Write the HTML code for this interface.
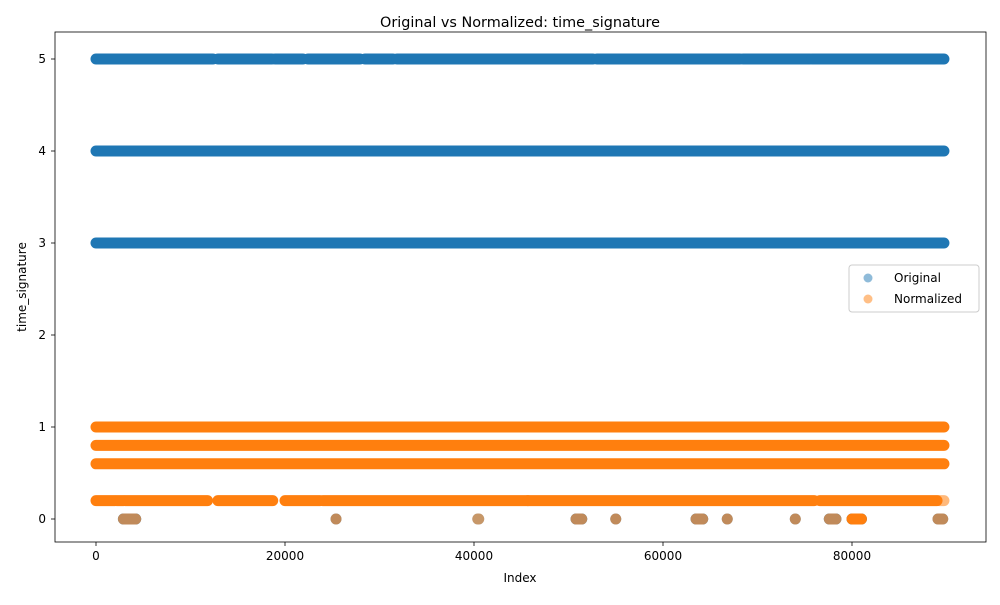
<!DOCTYPE html>
<html><head><meta charset="utf-8"><style>
body{margin:0;background:#fff;font-family:"Liberation Sans","DejaVu Sans",sans-serif}
svg text{font-family:"DejaVu Sans","Liberation Sans",sans-serif;font-size:12px;fill:#000}
</style></head><body>
<svg id="chart" width="1000" height="600" xmlns="http://www.w3.org/2000/svg">
<rect width="1000" height="600" fill="#fff"/>
<text x="520" y="27" text-anchor="middle" style="font-size:14.4px">Original vs Normalized: time_signature</text>
<g id="marks"></g>
<rect x="55" y="32" width="931" height="510" fill="none" stroke="#000" stroke-width="0.8"/>
<g id="axes"></g>
<text x="520" y="582" text-anchor="middle">Index</text>
<text transform="translate(26,287) rotate(-90)" text-anchor="middle">time_signature</text>
<g>
<rect x="849" y="265" width="130" height="47" rx="3" fill="#fff" fill-opacity="0.8" stroke="#ccc"/>
<g><circle cx="868" cy="278" r="4.5" fill="#1f77b4" fill-opacity="0.5"/><text x="894" y="282">Original</text></g>
<g><circle cx="868" cy="299" r="4.5" fill="#ff7f0e" fill-opacity="0.5"/><text x="894" y="303">Normalized</text></g>
</g>
</svg>
<script>
const xTicks=[0,20000,40000,60000,80000];
const yTicks=[0,1,2,3,4,5];
// Original series: level values and runs of indices where points are dense
const origLevels=[5,4,3,1,0];
const origRuns=[
 [[0,12380],[12910,18620],[18940,21900],[22430,27940],[28460,31430],[31850,52590],[53010,68150],[68460,75550],[75760,89730]],
 [[0,89730]],
 [[0,89730]],
 [[13500,13500],[28000,31000],[54000,54500],[59000,60000],[66500,67000]],
 [[2900,4200],[25400,25400],[40400,40500],[50800,51400],[55000,55000],[63500,64200],[66800,66800],[74000,74000],[77600,78300],[80000,81000],[89100,89600]]
];
// Normalized series
const normLevels=[1,0.8,0.6,0.2,0];
const normRuns=[
 [[0,89730]],
 [[0,89730]],
 [[0,89730]],
 [[0,2000],[2200,2900],[3100,11800],[12900,18700],[20000,23700],[24000,45700],[45700,76000],[76600,89000],[89200,89730]],
 [[40400,40500],[80000,81000]]
];
const X=v=>96+v*189/20000, Y=v=>519-v*92;
const ns="http://www.w3.org/2000/svg";
const marks=document.getElementById('marks'), axes=document.getElementById('axes');
function drawSeries(levels,runs,color,name){
 levels.forEach((lv,i)=>{
  runs[i].forEach((r,j)=>{
   const l=document.createElementNS(ns,'line');
   l.setAttribute('x1',X(r[0]));l.setAttribute('x2',X(r[1]));
   l.setAttribute('y1',Y(lv));l.setAttribute('y2',Y(lv));
   l.setAttribute('stroke',color);l.setAttribute('stroke-width','11');
   l.setAttribute('stroke-linecap','round');
   l.setAttribute('stroke-opacity',(r[1]-r[0]<600)?'0.55':'1');
   
   
   marks.appendChild(l);
  });
 });
}
drawSeries(origLevels,origRuns,'#1f77b4','original');
drawSeries(normLevels,normRuns,'#ff7f0e','normalized');
origRuns[4].forEach(r=>{
 if(r[0]===40400||r[0]===80000)return;
 const l=document.createElementNS(ns,'line');
 l.setAttribute('x1',X(r[0]));l.setAttribute('x2',X(r[1]));
 l.setAttribute('y1',Y(0));l.setAttribute('y2',Y(0));
 l.setAttribute('stroke','#c08a5a');l.setAttribute('stroke-width','11');l.setAttribute('stroke-linecap','round');
 
 
 marks.appendChild(l);
});
xTicks.forEach(t=>{
 const g=document.createElementNS(ns,'g');
 
 
 g.innerHTML=`<line x1="${X(t)}" x2="${X(t)}" y1="542" y2="546" stroke="#000" stroke-width="0.8"/><text x="${X(t)}" y="560" text-anchor="middle">${t}</text>`;
 axes.appendChild(g);
});
yTicks.forEach(t=>{
 const g=document.createElementNS(ns,'g');
 
 
 g.innerHTML=`<line x1="51" x2="55" y1="${Y(t)}" y2="${Y(t)}" stroke="#000" stroke-width="0.8"/><text x="46" y="${Y(t)+4}" text-anchor="end">${t}</text>`;
 axes.appendChild(g);
});
</script>
</body></html>
